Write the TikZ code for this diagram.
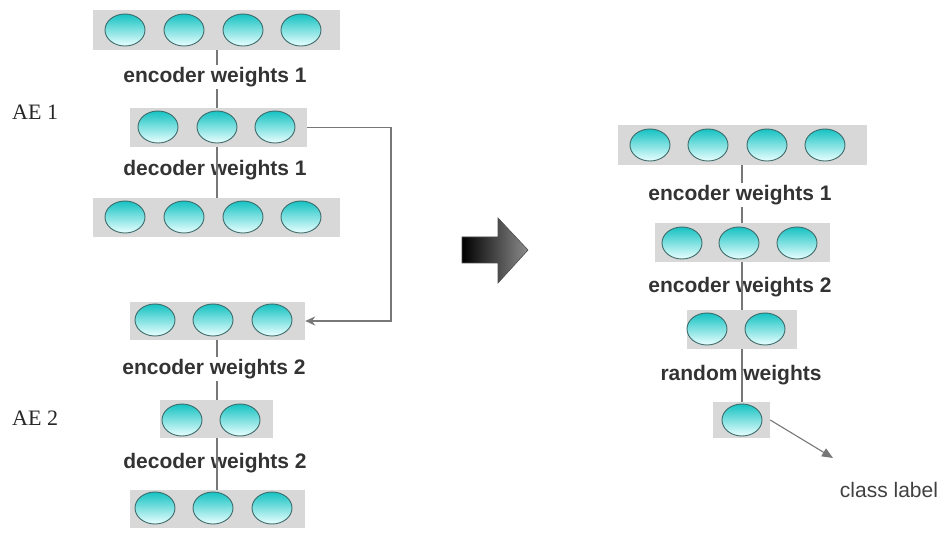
\documentclass[tikz,border=0pt]{standalone}
\usepackage{fontspec}
\setmainfont{Liberation Serif}
\setsansfont{Liberation Sans}
\usetikzlibrary{arrows.meta,shapes.geometric}
\definecolor{boxgray}{HTML}{D8D8D8}
\definecolor{ntop}{HTML}{16C2C2}
\definecolor{nbot}{HTML}{EAFFFF}
\definecolor{nedge}{HTML}{3E6A6A}
\definecolor{linegray}{HTML}{777777}
\definecolor{txt}{HTML}{333333}
\begin{document}
\begin{tikzpicture}[x=1pt,y=-1pt,
  layer/.style={fill=boxgray, draw=none, inner sep=0pt},
  neuron/.style={ellipse, draw=nedge, line width=0.9pt, minimum width=40pt, minimum height=32pt, inner sep=0pt, top color=ntop, bottom color=nbot},
  conn/.style={draw=linegray, line width=1.3pt},
  wlabel/.style={font=\sffamily\bfseries\fontsize{21}{24}\selectfont, text=txt, inner sep=2.5pt},
  wlabelbg/.style={wlabel, fill=white},
  aelabel/.style={font=\fontsize{22}{26}\selectfont, text=black!85, inner sep=0pt, anchor=west},
  arr/.style={-{Stealth[length=10pt,width=9pt]}}
]
\useasboundingbox (0,0) rectangle (944,534);
% ---------- left column boxes ----------
\node[layer, minimum width=247pt, minimum height=40pt] (L1) at (216.5,30) {};
\node[layer, minimum width=177pt, minimum height=39pt] (L2) at (218.5,127.5) {};
\node[layer, minimum width=247pt, minimum height=39pt] (L3) at (216.5,217.5) {};
\node[layer, minimum width=175pt, minimum height=38pt] (L4) at (217.5,321) {};
\node[layer, minimum width=113pt, minimum height=38pt] (L5) at (216.5,419) {};
\node[layer, minimum width=175pt, minimum height=38pt] (L6) at (217.5,509) {};
% ---------- right column boxes ----------
\node[layer, minimum width=249pt, minimum height=40pt] (R1) at (742.5,145) {};
\node[layer, minimum width=175pt, minimum height=39pt] (R2) at (742.5,242.5) {};
\node[layer, minimum width=110pt, minimum height=39pt] (R3) at (742,329.5) {};
\node[layer, minimum width=57pt, minimum height=36pt] (R4) at (741.5,420) {};
% ---------- decoder / through labels (line drawn over them) ----------
\node[wlabel] (ld1) at (215,170) {decoder weights 1};
\node[wlabel] (ld2) at (215,463) {decoder weights 2};
\node[wlabel] (re2) at (740,287) {encoder weights 2};
\node[wlabel] (rr) at (741,375) {random weights};
% ---------- vertical connectors ----------
\coordinate (vx) at (217,0);
\coordinate (rx) at (742,0);
\draw[conn] (L1.south -| vx) -- (L2.north -| vx);
\draw[conn] (L2.south -| vx) -- (L3.north -| vx);
\draw[conn] (L4.south -| vx) -- (L5.north -| vx);
\draw[conn] (L5.south -| vx) -- (L6.north -| vx);
\draw[conn] (R1.south -| rx) -- (R2.north -| rx);
\draw[conn] (R2.south -| rx) -- (R3.north -| rx);
\draw[conn] (R3.south -| rx) -- (R4.north -| rx);
% ---------- labels with white background ----------
\node[wlabelbg] (le1) at (215,77) {encoder weights 1};
\node[wlabelbg] (le2) at (214,369) {encoder weights 2};
\node[wlabelbg] (re1) at (740,195) {encoder weights 1};
% ---------- neurons ----------
\foreach \x [count=\i] in {125,184,243,301} {
  \node[neuron] (a\i) at (\x,30) {};
  \node[neuron] (c\i) at (\x,217) {};
}
\foreach \x [count=\i] in {158,217,275} \node[neuron] (b\i) at (\x,127) {};
\foreach \x [count=\i] in {155,213,272} {
  \node[neuron] (d\i) at (\x,320) {};
  \node[neuron] (f\i) at (\x,508) {};
}
\foreach \x [count=\i] in {182,240} \node[neuron] (e\i) at (\x,420) {};
\foreach \x [count=\i] in {650,708,767,825} \node[neuron] (p\i) at (\x,145) {};
\foreach \x [count=\i] in {682,739,797} \node[neuron] (q\i) at (\x,243) {};
\foreach \x [count=\i] in {707,765} \node[neuron] (s\i) at (\x,329) {};
\node[neuron] (t1) at (742,420) {};
% ---------- AE labels ----------
\node[aelabel] (ae1) at (12,112) {AE 1};
\node[aelabel] (ae2) at (12,418) {AE 2};
% ---------- AE1 -> AE2 connector ----------
\coordinate (bend) at (391,0);
\draw[conn, line width=1.1pt, arr] (L2.east) -- (L2.east -| bend) |- (L4.east);
% ---------- class label ----------
\coordinate (cl) at (833,458);
\draw[conn, line width=1.1pt, -{Triangle[length=11pt,width=9pt]}] (R4.east) -- (cl);
\node[font=\sffamily\fontsize{21}{24}\selectfont, text=black!75, inner sep=0pt] (clab) at (889,490) {class label};
% ---------- big transition arrow ----------
\shade[left color=black, right color=black!45, draw=black!70, line width=0.6pt]
  (462,237) -- (498,237) -- (498,218) -- (528,250) -- (498,283) -- (498,263) -- (462,263) -- cycle;
\end{tikzpicture}
\end{document}
